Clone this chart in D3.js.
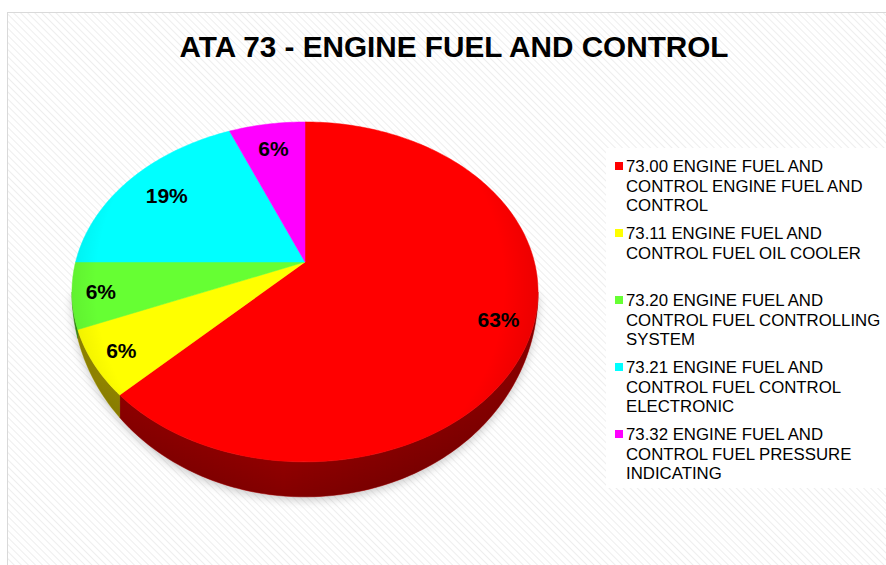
<!DOCTYPE html>
<html>
<head>
<meta charset="utf-8">
<script src="https://cdn.jsdelivr.net/npm/d3@7"></script>
<style>
body { margin: 0; background: #fff; }
text { font-family: "Liberation Sans", Arial, sans-serif; }
</style>
</head>
<body>
<div id="chart"></div>
<script>
// ATA 73 pie

//data
var title = "ATA 73 - ENGINE FUEL AND CONTROL";
var codes = ["73.00", "73.11", "73.20", "73.21", "73.32"];
var names = ["ENGINE FUEL AND CONTROL ENGINE FUEL AND CONTROL",
			"ENGINE FUEL AND CONTROL FUEL OIL COOLER",
			"ENGINE FUEL AND CONTROL FUEL CONTROLLING SYSTEM",
			"ENGINE FUEL AND CONTROL FUEL CONTROL ELECTRONIC",
			"ENGINE FUEL AND CONTROL FUEL PRESSURE INDICATING"];
var counts = [10, 1, 1, 3, 1];
var colors = ["#ff0000", "#ffff00", "#66ff33", "#00ffff", "#ff00ff"];
var sideColors = ["#b80000", "#b8a800", "#44a820", "#00a8a8", "#a800a8"];

var W = 886, H = 565;

// projection of the tilted disc (angle clockwise from 12 o'clock)
var cx = 305, cy = 262, A = 229.4, B = 164.7, k = 0.176, depth = 35;
function proj(a, r, down) {
	var u = r * Math.sin(a), v = -r * Math.cos(a);
	var w = 1 - k * v;
	var dz = down ? depth * Math.max(0, (v - k) / (1 - k)) : 0;
	return [cx + A * u / w, cy + B * v / w + dz];
}
function rim(a0, a1, down) {
	var n = Math.max(2, Math.ceil(Math.abs(a1 - a0) / 0.02));
	return d3.range(n + 1).map(function(i) { return proj(a0 + (a1 - a0) * i / n, 1, down); });
}
var line = d3.line();

var svg = d3.select("#chart").append("svg")
	.attr("width", W)
	.attr("height", H);

var defs = svg.append("defs");

var pat = defs.append("pattern")
	.attr("id", "stripes")
	.attr("patternUnits", "userSpaceOnUse")
	.attr("width", 5)
	.attr("height", 5)
	.attr("patternTransform", "rotate(-45)");
pat.append("rect").attr("width", 5).attr("height", 5).attr("fill", "#ffffff");
pat.append("line").attr("x1", 0).attr("y1", 0).attr("x2", 0).attr("y2", 5)
	.attr("stroke", "#eeeeee").attr("stroke-width", 2);

defs.append("filter").attr("id", "blur")
	.attr("x", "-20%").attr("y", "-20%").attr("width", "140%").attr("height", "140%")
	.append("feGaussianBlur").attr("stdDeviation", 5);

var shade = defs.append("linearGradient")
	.attr("id", "sideShade")
	.attr("gradientUnits", "userSpaceOnUse")
	.attr("x1", 74).attr("x2", 540).attr("y1", 0).attr("y2", 0);
shade.append("stop").attr("offset", "0%").attr("stop-color", "#000").attr("stop-opacity", 0.25);
shade.append("stop").attr("offset", "45%").attr("stop-color", "#000").attr("stop-opacity", 0.05);
shade.append("stop").attr("offset", "100%").attr("stop-color", "#000").attr("stop-opacity", 0.3);

var vshade = defs.append("linearGradient")
	.attr("id", "sideV")
	.attr("gradientUnits", "userSpaceOnUse")
	.attr("x1", 0).attr("x2", 0).attr("y1", 380).attr("y2", 497);
vshade.append("stop").attr("offset", "0%").attr("stop-color", "#000").attr("stop-opacity", 0);
vshade.append("stop").attr("offset", "100%").attr("stop-color", "#000").attr("stop-opacity", 0.25);

var topShade = defs.append("radialGradient")
	.attr("id", "topShade")
	.attr("gradientUnits", "userSpaceOnUse")
	.attr("cx", 300).attr("cy", 285).attr("r", 240);
topShade.append("stop").attr("offset", "85%").attr("stop-color", "#000").attr("stop-opacity", 0);
topShade.append("stop").attr("offset", "100%").attr("stop-color", "#000").attr("stop-opacity", 0.08);

// frame and background
svg.append("rect")
	.attr("x", 7.5)
	.attr("y", 12.5)
	.attr("width", W)
	.attr("height", H)
	.attr("fill", "url(#stripes)")
	.attr("stroke", "#d9d9d9");

svg.append("text")
	.attr("x", 454)
	.attr("y", 57)
	.attr("text-anchor", "middle")
	.attr("font-size", 29)
	.attr("font-weight", "bold")
	.attr("textLength", 549)
	.attr("lengthAdjust", "spacingAndGlyphs")
	.text(title);

var pie = d3.pie().sort(null).value(function(d) { return d; });
var arcs = pie(counts);
var total = d3.sum(counts);
var color = d3.scaleOrdinal().domain(d3.range(counts.length)).range(colors);
var sideColor = d3.scaleOrdinal().domain(d3.range(counts.length)).range(sideColors);

var front0 = Math.acos(-k), front1 = 2 * Math.PI - front0;

// shadow under the pie
svg.append("path")
	.attr("d", line(rim(front0, front1, true).map(function(p) { return [p[0], p[1] + 3]; }).concat([[cx, cy + 60]])) + "Z")
	.attr("fill", "#999")
	.attr("opacity", 0.55)
	.attr("filter", "url(#blur)");

// sides
var sides = svg.append("g");
arcs.forEach(function(d, i) {
	var lo = Math.max(d.startAngle, front0), hi = Math.min(d.endAngle, front1);
	if (lo >= hi) return;
	var pts = rim(lo, hi, false).concat(rim(hi, lo, true));
	sides.append("path")
		.attr("d", line(pts) + "Z")
		.attr("fill", sideColor(i))
		.attr("stroke", sideColor(i))
		.attr("stroke-width", 0.5);
});
var sidePts = rim(front0, front1, false).concat(rim(front1, front0, true));
sides.append("path").attr("d", line(sidePts) + "Z").attr("fill", "url(#sideShade)");
sides.append("path").attr("d", line(sidePts) + "Z").attr("fill", "url(#sideV)");

// top faces
var tops = svg.append("g");
arcs.forEach(function(d, i) {
	var pts = [[cx, cy]].concat(rim(d.startAngle, d.endAngle, false));
	tops.append("path")
		.attr("d", line(pts) + "Z")
		.attr("fill", color(i))
		.attr("stroke", color(i))
		.attr("stroke-width", 0.5);
});
tops.append("path")
	.attr("d", line(rim(0, 2 * Math.PI, false)) + "Z")
	.attr("fill", "url(#topShade)");

// percentage labels
var labelR = [0.86, 0.88, 0.88, 0.78, 0.80];
svg.append("g").selectAll("text")
	.data(arcs)
	.enter().append("text")
	.attr("x", function(d, i) { return proj((d.startAngle + d.endAngle) / 2, labelR[i])[0]; })
	.attr("y", function(d, i) { return proj((d.startAngle + d.endAngle) / 2, labelR[i])[1]; })
	.attr("dy", "0.36em")
	.attr("text-anchor", "middle")
	.attr("font-size", 21)
	.attr("font-weight", "bold")
	.text(function(d) { return Math.round(d.value / total * 100) + "%"; });

// legend
var legend = svg.append("g");
legend.append("rect")
	.attr("x", 606)
	.attr("y", 148)
	.attr("width", 280)
	.attr("height", 340)
	.attr("fill", "#fff");

var lineH = 19.5, entryH = 67, maxW = 260;
codes.forEach(function(c, i) {
	var y0 = 172 + i * entryH;
	legend.append("rect")
		.attr("x", 615)
		.attr("y", y0 - 10)
		.attr("width", 8)
		.attr("height", 8)
		.attr("fill", color(i));
	var t = legend.append("text")
		.attr("x", 626)
		.attr("y", y0)
		.attr("font-size", 16.8)
		.attr("fill", "#000");
	var words = (c + " " + names[i]).split(" ");
	var cur = [], ln = 0;
	var ts = t.append("tspan").attr("x", 626).attr("y", y0);
	words.forEach(function(w) {
		cur.push(w);
		ts.text(cur.join(" "));
		if (ts.node().getComputedTextLength() > maxW && cur.length > 1) {
			cur.pop();
			ts.text(cur.join(" "));
			cur = [w];
			ln++;
			ts = t.append("tspan").attr("x", 626).attr("y", y0 + ln * lineH).text(w);
		}
	});
});
</script>
</body>
</html>
